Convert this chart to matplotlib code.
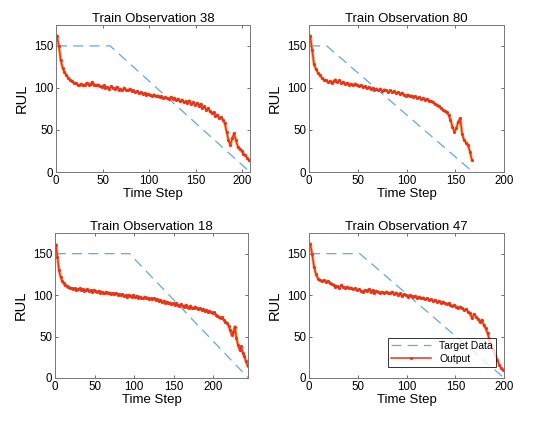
import numpy as np
import matplotlib
matplotlib.use('Agg')
import matplotlib.pyplot as plt

plt.rcParams['font.family'] = ['Liberation Sans', 'DejaVu Sans']

titles = ["Train Observation 38", "Train Observation 80",
          "Train Observation 18", "Train Observation 47"]
xmax = [208, 200, 244, 200]

# target RUL breakpoints (clipped at 150)
tgt_x = [[1, 58, 208], [1, 18, 168], [1, 94, 244], [1, 52, 200]]
tgt_y = [[150, 150, 0], [150, 150, 0], [150, 150, 0], [150, 150, 0]]

# network output, read every 2nd time step
out38 = [162, 150, 133, 124, 119, 115, 112, 110, 108, 106, 106, 104, 103, 105, 103, 104, 106, 104, 105, 107,
         104, 103, 104, 102, 101, 103, 100, 101, 99, 102, 100, 99, 101, 98, 99, 97, 100, 98, 97, 99,
         96, 97, 95, 96, 94, 95, 93, 94, 92, 93, 92, 91, 92, 90, 91, 89, 90, 88, 89, 88,
         87, 89, 87, 88, 86, 87, 84, 86, 83, 84, 82, 85, 81, 83, 80, 82, 79, 81, 76, 78,
         74, 76, 72, 70, 71, 67, 68, 64, 65, 62, 58, 48, 38, 32, 40, 46, 38, 30, 27, 25,
         22, 20, 17, 14]
out80 = [162, 145, 128, 122, 118, 115, 112, 110, 109, 107, 108, 106, 108, 110, 107, 109, 106, 107, 105, 106,
         104, 105, 103, 105, 104, 102, 103, 101, 102, 100, 101, 99, 100, 98, 99, 97, 99, 96, 98, 97,
         95, 97, 95, 96, 94, 95, 93, 94, 92, 91, 92, 90, 91, 89, 90, 88, 89, 87, 88, 86,
         87, 85, 84, 83, 81, 80, 78, 76, 74, 73, 71, 68, 62, 54, 48, 52, 60, 64, 45, 38,
         35, 32, 24, 14]
out18 = [161, 146, 130, 122, 117, 114, 112, 111, 110, 109, 108, 107, 108, 106, 107, 108, 106, 107, 105, 106,
         107, 105, 106, 104, 106, 105, 104, 105, 103, 104, 103, 102, 104, 102, 103, 101, 102, 101, 102, 100,
         101, 100, 101, 99, 100, 98, 100, 99, 98, 100, 98, 99, 97, 98, 97, 96, 98, 96, 97, 95,
         96, 95, 96, 94, 95, 93, 94, 92, 93, 91, 92, 90, 91, 89, 90, 88, 90, 88, 87, 89,
         87, 86, 88, 86, 85, 87, 85, 84, 86, 84, 83, 84, 82, 83, 81, 82, 80, 81, 79, 78,
         79, 76, 75, 74, 72, 73, 70, 68, 66, 63, 58, 52, 55, 62, 48, 40, 34, 38, 30, 26,
         20, 15]
out47 = [162, 150, 134, 125, 120, 118, 117, 118, 116, 117, 115, 113, 112, 110, 111, 109, 112, 110, 109, 110,
         108, 109, 107, 108, 106, 107, 105, 104, 106, 105, 107, 104, 106, 103, 105, 104, 103, 104, 102, 104,
         103, 102, 104, 101, 103, 100, 102, 99, 101, 100, 98, 100, 99, 98, 99, 97, 98, 96, 97, 95,
         96, 94, 95, 93, 94, 92, 93, 91, 92, 90, 89, 90, 88, 87, 88, 86, 85, 86, 84, 82,
         83, 80, 78, 72, 77, 74, 71, 68, 70, 64, 60, 54, 46, 40, 34, 28, 22, 16, 12, 10]
outputs = [out38, out80, out18, out47]

pos = [[0.105, 0.599, 0.363, 0.343], [0.579, 0.599, 0.365, 0.343],
       [0.103, 0.119, 0.362, 0.338], [0.579, 0.119, 0.365, 0.338]]

fig = plt.figure(figsize=(5.34, 4.29), dpi=100)
for i in range(4):
    ax = fig.add_axes(pos[i])
    y = np.array(outputs[i])
    x = np.arange(len(y)) * 2 + 1
    ax.plot(tgt_x[i], tgt_y[i], linestyle=(0, (8, 5)), color='#5fa8e8', lw=0.9, label='Target Data')
    # orange halo under the red output trace
    ax.plot(x, y, '-', color='#f5a040', lw=2.4, alpha=0.7)
    ax.plot(x, y, '-', color='#e8321c', lw=1.1, marker='.', ms=2.5, label='Output')
    ax.set_xlim(0, xmax[i])
    ax.set_ylim(0, 175)
    ax.set_xticks([0, 50, 100, 150, 200])
    ax.set_yticks([0, 50, 100, 150])
    ax.tick_params(direction='in', top=True, right=True, length=2.5, width=0.6,
                   labelsize=8.3, color='#555555', pad=2)
    for s in ax.spines.values():
        s.set_color('#777777')
        s.set_linewidth(0.7)
    ax.set_title(titles[i], fontsize=9.5, pad=2)
    ax.set_xlabel('Time Step', fontsize=9.5, labelpad=1)
    ax.set_ylabel('RUL', fontsize=10.5, labelpad=4)
    if i == 3:
        leg = ax.legend(loc='lower right', fontsize=7.5, frameon=True, fancybox=False,
                        borderpad=0.3, handlelength=3.8, labelspacing=0.3,
                        bbox_to_anchor=(0.985, 0.04))
        leg.get_frame().set_edgecolor('black')
        leg.get_frame().set_linewidth(0.7)

fig.savefig('out.png', dpi=100)
